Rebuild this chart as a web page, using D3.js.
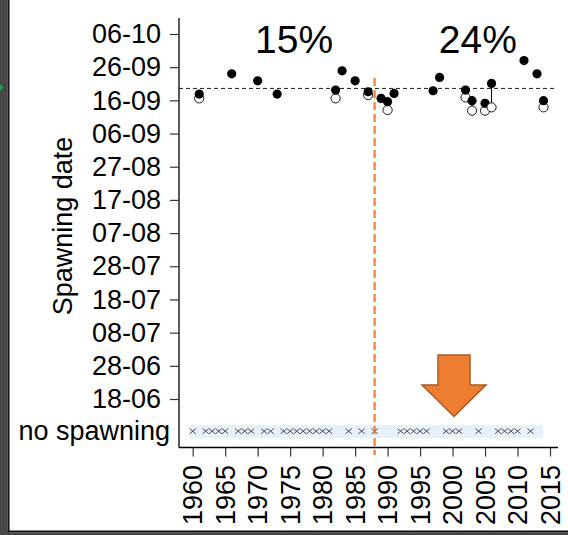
<!DOCTYPE html>
<html>
<head>
<meta charset="utf-8">
<script src="https://cdn.jsdelivr.net/npm/d3@7"></script>
<style>
  html, body { margin: 0; padding: 0; background: #fff; }
  svg { display: block; }
  text { font-family: "Liberation Sans", Arial, sans-serif; fill: #000; }
</style>
</head>
<body>
<script>
// Years with observed spawning, and the spawning day-of-year for each
const spawnYears = [1961, 1966, 1970, 1973, 1982, 1983, 1985, 1987, 1989, 1990,
                    1991, 1997, 1998, 2002, 2003, 2005, 2006, 2011, 2013, 2014];
const mainSpawnDay = [260.9, 267.0, 264.9, 260.9, 262.1, 267.9, 264.9, 261.6, 259.6, 258.6,
                      261.1, 261.9, 265.9, 262.1, 258.9, 258.1, 264.1, 271.0, 267.0, 258.9];
// Second (earlier) spawning estimate where one exists
const altYears = [1961, 1982, 1987, 1990, 2002, 2003, 2005, 2006, 2014];
const altSpawnDay = [259.6, 259.6, 260.6, 256.1, 259.9, 255.9, 255.9, 256.9, 256.9];
// Years without spawning
const noSpawnYears = [1960, 1962, 1963, 1964, 1965, 1967, 1968, 1969, 1971, 1972,
                      1974, 1975, 1976, 1977, 1978, 1979, 1980, 1981, 1984, 1986,
                      1988, 1992, 1993, 1994, 1995, 1996, 1999, 2000, 2001, 2004,
                      2007, 2008, 2009, 2010, 2012];
// Mean spawning day and the regime-shift year
const meanSpawnDay = 262.6;
const shiftYear = 1988;
// Share of years with spawning before / after the shift
const periodLabels = ["15%", "24%"];
const periodCentres = [1975.6, 2003.9];

// Axis tick labels
const yTickLabels = ["18-06", "28-06", "08-07", "18-07", "28-07", "07-08",
                     "17-08", "27-08", "06-09", "16-09", "26-09", "06-10"];
const xTickLabels = [1960, 1965, 1970, 1975, 1980, 1985, 1990, 1995, 2000, 2005, 2010, 2015];
const noSpawnLabel = "no spawning";
const yTitle = "Spawning date";

// day-of-year from a "dd-mm" label (non-leap year)
const parseDM = d3.timeParse("%d-%m");
const dayOfYear = s => { const d = parseDM(s); return d3.timeDay.count(d3.timeYear(d), d) + 1; };
const yTickDays = yTickLabels.map(dayOfYear);

const W = 568, H = 535;
const svg = d3.select("body").append("svg").attr("width", W).attr("height", H);

const x = d3.scaleLinear().domain([1960, 2015]).range([192.7, 550]);
const y = d3.scaleLinear().domain([169, 279]).range([399, 34]);
const noSpawnDay = 159.6;

// window frame on the left and bottom
svg.append("rect").attr("x", 0).attr("y", 0).attr("width", 7.5).attr("height", H).attr("fill", "#474747");
svg.append("rect").attr("x", 7.5).attr("y", 0).attr("width", 2).attr("height", 532.5).attr("fill", "#111");
svg.append("rect").attr("x", 0).attr("y", 532.5).attr("width", W).attr("height", 3).attr("fill", "#474747");
svg.append("rect").attr("x", 7.5).attr("y", 530.5).attr("width", W).attr("height", 2).attr("fill", "#111");
svg.append("path").attr("d", "M0,84 L3.5,87.5 L0,91 Z").attr("fill", "#1aa050");

// "no spawning" band
svg.append("rect")
  .attr("x", 190).attr("y", 425)
  .attr("width", 353).attr("height", 13)
  .attr("fill", "#e8f1fb");

// axes lines
const axisLeftX = 179, axisBottomY = 447.5;
svg.append("line").attr("x1", axisLeftX).attr("x2", axisLeftX).attr("y1", 18).attr("y2", axisBottomY)
  .attr("stroke", "#000").attr("stroke-width", 1.3);
svg.append("line").attr("x1", axisLeftX).attr("x2", 558).attr("y1", axisBottomY).attr("y2", axisBottomY)
  .attr("stroke", "#000").attr("stroke-width", 1.3);

// y axis
const yAxis = d3.axisLeft(y).tickValues(yTickDays)
  .tickFormat((d, i) => yTickLabels[i]).tickSize(9).tickPadding(9).tickSizeOuter(0);
const gy = svg.append("g").attr("transform", `translate(${axisLeftX},0)`).call(yAxis);
gy.select(".domain").remove();
gy.selectAll(".tick line").attr("stroke", "#333").attr("stroke-width", 1.2);
gy.selectAll(".tick text").attr("font-size", 27).attr("font-family", "Liberation Sans, Arial, sans-serif")
  .attr("fill", "#000");

svg.append("text")
  .attr("x", 170).attr("y", y(noSpawnDay))
  .attr("dy", "0.36em").attr("text-anchor", "end")
  .attr("font-size", 27).text(noSpawnLabel);

svg.append("text")
  .attr("transform", `translate(72,226) rotate(-90)`)
  .attr("text-anchor", "middle")
  .attr("font-size", 27).text(yTitle);

// x axis
const xAxis = d3.axisBottom(x).tickValues(xTickLabels).tickFormat("").tickSize(9).tickSizeOuter(0);
const gx = svg.append("g").attr("transform", `translate(0,${axisBottomY})`).call(xAxis);
gx.select(".domain").remove();
gx.selectAll(".tick line").attr("stroke", "#333").attr("stroke-width", 1.2);
svg.append("g").selectAll("text").data(xTickLabels).join("text")
  .attr("transform", d => `translate(${x(d)},465) rotate(-90)`)
  .attr("text-anchor", "end").attr("dy", "0.36em")
  .attr("font-size", 27).text(d => d);

// mean spawning date
svg.append("line")
  .attr("x1", axisLeftX).attr("x2", 555)
  .attr("y1", y(meanSpawnDay)).attr("y2", y(meanSpawnDay))
  .attr("stroke", "#000").attr("stroke-width", 0.9).attr("stroke-dasharray", "4,3");

// no-spawning crosses
const cross = 3.1, crossH = 2.6;
svg.append("g").selectAll("path").data(noSpawnYears).join("path")
  .attr("d", d => {
    const cx = x(d), cy = y(noSpawnDay) + 1;
    return `M${cx - cross},${cy - crossH}L${cx + cross},${cy + crossH}M${cx - cross},${cy + crossH}L${cx + cross},${cy - crossH}`;
  })
  .attr("stroke", "#3a3a3a").attr("stroke-width", 0.9).attr("fill", "none");

// spawning points: per year, connector, open circle, then filled circle
const altByYear = new Map(altYears.map((yr, i) => [yr, altSpawnDay[i]]));
const r = 4.6;
const gp = svg.append("g");
spawnYears.forEach((yr, i) => {
  const cx = x(yr);
  const alt = altByYear.get(yr);
  if (alt !== undefined) {
    gp.append("line").attr("x1", cx).attr("x2", cx)
      .attr("y1", y(mainSpawnDay[i])).attr("y2", y(alt))
      .attr("stroke", "#000").attr("stroke-width", 1);
    gp.append("circle").attr("cx", cx).attr("cy", y(alt)).attr("r", r)
      .attr("fill", "#fff").attr("stroke", "#000").attr("stroke-width", 0.9);
  }
  gp.append("circle").attr("cx", cx).attr("cy", y(mainSpawnDay[i])).attr("r", r)
    .attr("fill", "#000");
});

// regime-shift line
svg.append("line")
  .attr("x1", x(shiftYear)).attr("x2", x(shiftYear))
  .attr("y1", 78).attr("y2", 455)
  .attr("stroke", "#ed7d31").attr("stroke-width", 2.2).attr("stroke-dasharray", "8,4");

// percentage labels
svg.append("g").selectAll("text").data(periodLabels).join("text")
  .attr("x", (d, i) => x(periodCentres[i])).attr("y", 53)
  .attr("text-anchor", "middle")
  .attr("font-family", "Lato, 'Open Sans', sans-serif")
  .attr("font-size", 39).text(d => d);

// down arrow
const ax = 454;
const arrow = [[ax - 16, 355], [ax + 16, 355], [ax + 16, 385], [ax + 32, 385],
               [ax, 416.5], [ax - 32, 385], [ax - 16, 385]];
svg.append("path")
  .attr("d", d3.line()(arrow) + "Z")
  .attr("fill", "#ed7d31").attr("stroke", "#ae5a21").attr("stroke-width", 1.5)
  .attr("stroke-linejoin", "miter");
</script>
</body>
</html>
